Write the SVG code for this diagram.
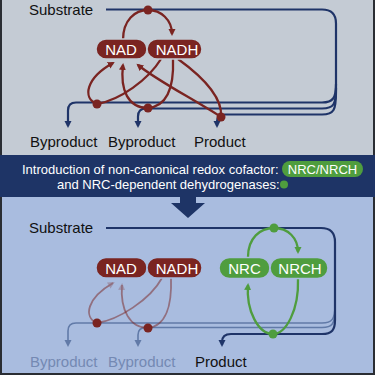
<svg xmlns="http://www.w3.org/2000/svg" width="375" height="375" viewBox="0 0 375 375">
<style>
  text { font-family: "Liberation Sans", Arial, sans-serif; }
  .lbl { font-size: 15px; fill: #111111; }
  .fade { fill: #7489b3; }
  .pilltxt { font-size: 15px; fill: #ffffff; text-anchor: middle; }
  .band { font-size: 13px; fill: #ffffff; }
  .navy { fill: none; stroke: #1f3468; stroke-width: 2.2; }
  .navyf { fill: none; stroke: #617aa8; stroke-width: 1.6; }
  .red { fill: none; stroke: #7a2421; stroke-width: 2.3; }
  .redf { fill: none; stroke: #7a2421; stroke-width: 1.8; opacity: 0.5; }
  .green { fill: none; stroke: #4f9d3e; stroke-width: 2.3; }
  .redpill { fill: #7a2421; stroke-width: 1.5; }
  .greenpill { fill: #4f9d3e; stroke-width: 1.5; }
</style>
<defs>
  <marker id="aNavy" markerUnits="userSpaceOnUse" markerWidth="9" markerHeight="9" refX="5" refY="3.5" orient="auto">
    <path d="M0,0 L7,3.5 L0,7 z" fill="#1f3468"/>
  </marker>
  <marker id="aNavyF" markerUnits="userSpaceOnUse" markerWidth="9" markerHeight="9" refX="5" refY="3.5" orient="auto">
    <path d="M0,0 L7,3.5 L0,7 z" fill="#617aa8"/>
  </marker>
  <marker id="aRed" markerUnits="userSpaceOnUse" markerWidth="9" markerHeight="9" refX="5" refY="3.5" orient="auto">
    <path d="M0,0 L7,3.5 L0,7 z" fill="#7a2421"/>
  </marker>
  <marker id="aRedF" markerUnits="userSpaceOnUse" markerWidth="9" markerHeight="9" refX="5" refY="3.5" orient="auto">
    <path d="M0,0 L7,3.5 L0,7 z" fill="#7a2421" fill-opacity="0.5"/>
  </marker>
  <marker id="aGreen" markerUnits="userSpaceOnUse" markerWidth="9" markerHeight="9" refX="5" refY="3.5" orient="auto">
    <path d="M0,0 L7,3.5 L0,7 z" fill="#4f9d3e"/>
  </marker>
</defs>

<!-- backgrounds -->
<rect x="0" y="0" width="375" height="375" fill="#2a2d33"/>
<rect x="2" y="0" width="371" height="155" fill="#c4cbd4"/>
<rect x="2" y="197" width="371" height="176" fill="#a9bcdf"/>
<rect x="0" y="155" width="375" height="42" fill="#1e3466"/>
<path d="M180,196 H196 V203 H205 L188,218 L171,203 H180 z" fill="#1e3466"/>

<!-- band text -->
<g id="banner">
  <text class="band" x="22" y="174">Introduction of non-canonical redox cofactor:</text>
  <rect x="282" y="161" width="81" height="16" rx="8" fill="#4f9d3e"/>
  <text class="band" x="322.5" y="174" text-anchor="middle">NRC/NRCH</text>
  <text class="band" x="57" y="189">and NRC-dependent dehydrogenases:</text>
  <circle cx="284" cy="184.5" r="4" fill="#4f9d3e"/>
</g>

<!-- ===== TOP PANEL ===== -->
<g id="connectors-top">
  <path class="navy" d="M106,9.5 H322 Q336,9.5 336,23.5 V92"/>
  <path class="navy" d="M336,84 C336,98 333,102.5 322,102.5 H76 Q68,102.5 68,110.5 V126" marker-end="url(#aNavy)"/>
  <path class="navy" d="M336,88 C336,104 334,108.5 322,108.5 H146 Q138,108.5 138,116.5 V126" marker-end="url(#aNavy)"/>
  <path class="navy" d="M336,92 C336,110 334,114.5 322,114.5 H225 Q217,114.5 217,121.5 V126" marker-end="url(#aNavy)"/>

  <path class="red" d="M123,40 C123,20 135,10 148,10 C161,10 172,20 172,34" marker-end="url(#aRed)"/>
  <path class="red" d="M161,59 C148,80 120,100 97,104"/>
  <path class="red" d="M97,104 C82,98 86,78 113,63" marker-end="url(#aRed)"/>
  <path class="red" d="M173,59 C174,85 168,106 148,108"/>
  <path class="red" d="M148,108 C128,108 120,90 123,65" marker-end="url(#aRed)"/>
  <path class="red" d="M178,59 C196,72 223,95 221,117"/>
  <path class="red" d="M221,117 C195,100 156,80 138,65" marker-end="url(#aRed)"/>
</g>

<g id="substrate-top"><text class="lbl" x="29" y="15">Substrate</text></g>
<g id="byproduct1-top"><text class="lbl" x="30" y="147">Byproduct</text></g>
<g id="byproduct2-top"><text class="lbl" x="108" y="147">Byproduct</text></g>
<g id="product-top"><text class="lbl" x="194" y="147">Product</text></g>

<g id="nad-top">
  <rect class="redpill" x="96" y="39" width="51" height="20" rx="10" stroke="#c4cbd4"/>
  <text class="pilltxt" x="121" y="55">NAD</text>
</g>
<g id="nadh-top">
  <rect class="redpill" x="147" y="39" width="55" height="20" rx="10" stroke="#c4cbd4"/>
  <text class="pilltxt" x="177" y="55">NADH</text>
</g>

<g id="enzymes-top" fill="#7a2421">
  <circle cx="148" cy="10" r="4.5"/>
  <circle cx="97" cy="104" r="4.5"/>
  <circle cx="148" cy="108" r="4.5"/>
  <circle cx="221" cy="117" r="4.5"/>
</g>

<!-- ===== BOTTOM PANEL ===== -->
<g id="connectors-bottom">
  <path class="navyf" d="M335,306 C335,319 332,323 322,323 H76 Q68,323 68,331 V345" marker-end="url(#aNavyF)"/>
  <path class="navyf" d="M335,310 C335,324 332,327.5 322,327.5 H146 Q138,327.5 138,335 V345" marker-end="url(#aNavyF)"/>
  <path class="navy" d="M106,228 H321 Q335,228 335,242 V320 C335,330 332,334 322,334 H231 Q222,334 222,342 V345" marker-end="url(#aNavy)"/>

  <path class="redf" d="M162,278 C150,300 118,320 97,323"/>
  <path class="redf" d="M97,323 C83,317 87,298 113,283" marker-end="url(#aRedF)"/>
  <path class="redf" d="M171,278 C172,305 166,326 148,328"/>
  <path class="redf" d="M148,328 C130,328 120,310 122,285" marker-end="url(#aRedF)"/>

  <path class="green" d="M248,257 C248,238 260,228 274,228 C288,228 298,238 298,252" marker-end="url(#aGreen)"/>
  <path class="green" d="M298,279 C299,310 286,334 273,334"/>
  <path class="green" d="M273,334 C258,334 246,310 248,285" marker-end="url(#aGreen)"/>
</g>

<g id="substrate-bottom"><text class="lbl" x="29" y="233">Substrate</text></g>
<g id="byproduct1-bottom"><text class="lbl fade" x="30" y="367">Byproduct</text></g>
<g id="byproduct2-bottom"><text class="lbl fade" x="108" y="367">Byproduct</text></g>
<g id="product-bottom"><text class="lbl" x="195" y="367">Product</text></g>

<g id="nad-bottom">
  <rect class="redpill" x="96" y="257.5" width="51" height="20.5" rx="10" stroke="#a9bcdf"/>
  <text class="pilltxt" x="121" y="274">NAD</text>
</g>
<g id="nadh-bottom">
  <rect class="redpill" x="147" y="257.5" width="55" height="20.5" rx="10" stroke="#a9bcdf"/>
  <text class="pilltxt" x="177" y="274">NADH</text>
</g>
<g id="nrc-bottom">
  <rect class="greenpill" x="219" y="257.5" width="51" height="21" rx="10.5" stroke="#a9bcdf"/>
  <text class="pilltxt" x="244.5" y="274">NRC</text>
</g>
<g id="nrch-bottom">
  <rect class="greenpill" x="270" y="257.5" width="58" height="21" rx="10.5" stroke="#a9bcdf"/>
  <text class="pilltxt" x="300" y="274">NRCH</text>
</g>

<g id="enzymes-bottom">
  <circle cx="97" cy="323" r="4.5" fill="#7a2421"/>
  <circle cx="148" cy="328" r="4.5" fill="#7a2421"/>
  <circle cx="274" cy="228" r="4.5" fill="#4f9d3e"/>
  <circle cx="273" cy="334" r="4.5" fill="#4f9d3e"/>
</g>
</svg>
